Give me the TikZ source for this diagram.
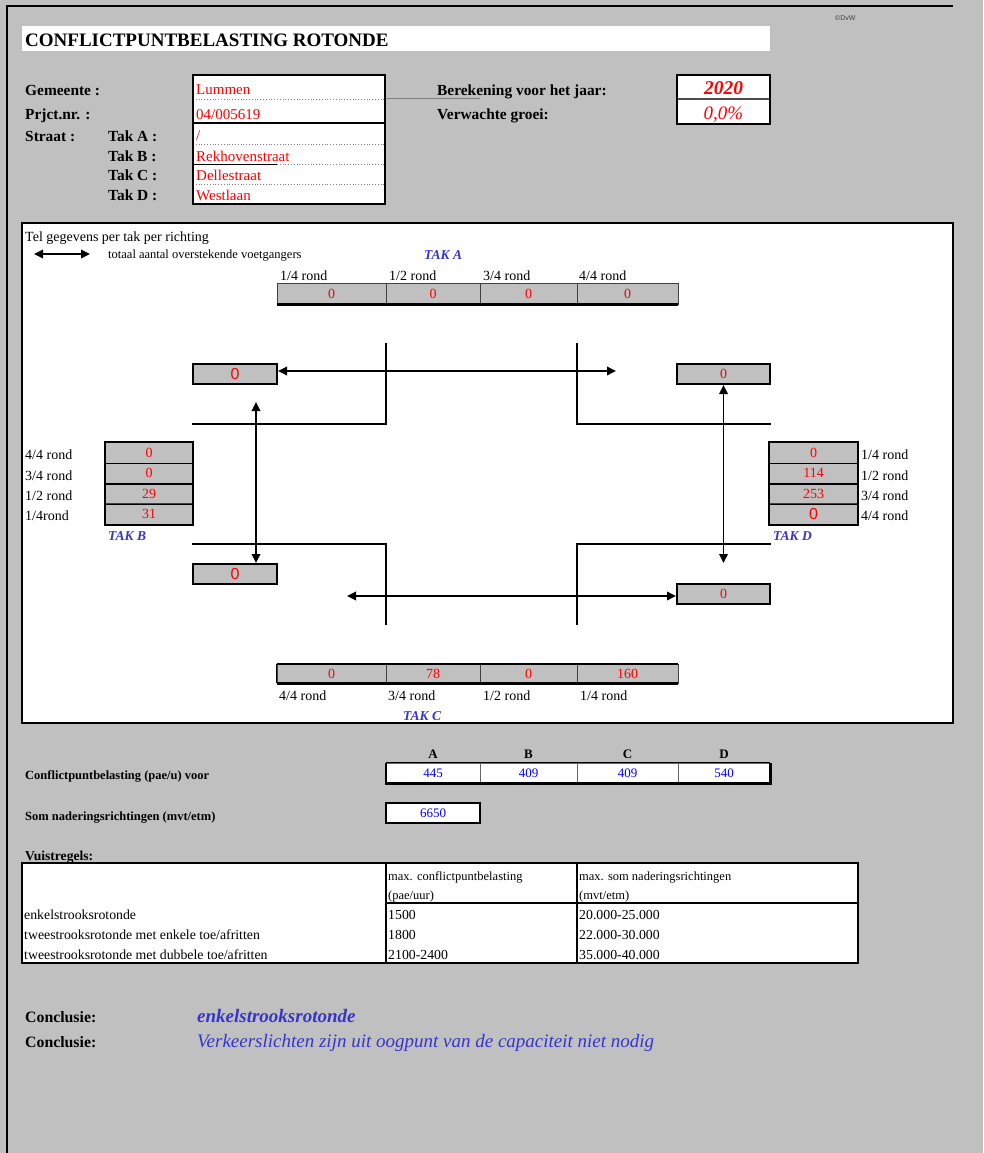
\documentclass[tikz,border=0pt]{standalone}
\usepackage{fontspec}
\setmainfont{Liberation Serif}
\newfontfamily\sansf{Liberation Sans}
\usetikzlibrary{arrows.meta}
\definecolor{bg}{HTML}{C0C0C0}
\definecolor{tblue}{HTML}{3535CC}
\definecolor{vblue}{HTML}{0000FF}
\definecolor{vred}{HTML}{FF0000}
\newcommand\fsz[1]{\fontsize{#1}{#1}\selectfont}
\begin{document}
\begin{tikzpicture}[x=1pt,y=-1pt,
  txt/.style={anchor=base west, inner sep=0},
  ctr/.style={anchor=base, inner sep=0},
  hdr/.style={txt, font=\bfseries\fsz{15.4}},
  inval/.style={txt, text=vred, font=\fsz{15}},
  rond/.style={txt, font=\fsz{14}},
  tak/.style={txt, text=tblue, font=\bfseries\itshape\fsz{13.5}},
  cellg/.style={draw=black!75, line width=0.9, fill=bg, minimum height=#1, inner sep=0, text=vred, font=\fsz{14}},
  pedbox/.style={draw=black, line width=2, fill=bg, minimum width=#1, minimum height=20, inner sep=0, text=vred},
  cellw/.style={draw=black!60, line width=0.8, fill=white, minimum height=20, inner sep=0, text=vblue, font=\fsz{13}},
  road/.style={line width=2, line cap=rect},
  dbl/.style={line width=1.8, {Triangle[length=9pt,width=8.5pt]}-{Triangle[length=9pt,width=8.5pt]}},
  small/.style={txt, font=\bfseries\fsz{12.5}},
  rowt/.style={txt, font=\fsz{13.8}},
  rowh/.style={txt, font=\fsz{12.5}},
  concl/.style={txt, font=\bfseries\fsz{15.8}},
]
\useasboundingbox (0,0) rectangle (983,1153);
\fill[bg] (0,0) rectangle (983,1153);
\draw[line width=2] (7,1153) -- (7,6) -- (953,6);

% title
\fill[white] (22,26) rectangle (770,51);
\node[txt, font=\bfseries\fsz{19}] (title) at (25,46.5) {CONFLICTPUNTBELASTING ROTONDE};
\node[txt, font=\sansf\fsz{7}, text=black!75] (copy) at (835,21) {\textcopyright DvW};

% header labels
\node[hdr] (lgem) at (25,96) {Gemeente :};
\node[hdr] (lprj) at (25,120) {Prjct.nr. :};
\node[hdr] (lstr) at (25,141) {Straat :};
\node[hdr] (ltA) at (108,141) {Tak A :};
\node[hdr] (ltB) at (108,161) {Tak B :};
\node[hdr] (ltC) at (108,180.5) {Tak C :};
\node[hdr] (ltD) at (108,200.5) {Tak D :};

% input box
\fill[white] (193,75) rectangle (385,204);
\draw[gray, line width=0.8, dotted] (193,99) -- (385,99);
\draw[gray, line width=1] (385,99) -- (480,99);
\draw[gray, line width=0.8, dotted] (193,144) -- (385,144) (193,164) -- (385,164) (193,184) -- (385,184);
\draw[line width=1] (193,164) -- (277,164);
\draw[line width=2] (193,75) rectangle (385,123);
\draw[line width=2] (193,123) rectangle (385,204);
\node[inval] (vgem) at (196,95) {Lummen};
\node[inval] (vprj) at (196,120) {04/005619};
\node[inval] (vA) at (196,140) {/};
\node[inval] (vB) at (196,161) {Rekhovenstraat};
\node[inval] (vC) at (196,180.5) {Dellestraat};
\node[inval] (vD) at (196,200.5) {Westlaan};

\node[hdr] (lber) at (437,96) {Berekening voor het jaar:};
\node[hdr] (lgro) at (437,120) {Verwachte groei:};
\fill[white] (677,75) rectangle (770,124);
\draw[line width=1.2, black!70] (677,99) -- (770,99);
\draw[line width=2] (677,75) rectangle (770,124);
\node[ctr, text=vred, font=\bfseries\itshape\fsz{19.5}] (vjaar) at (723.5,95) {2020};
\node[ctr, text=vred, font=\itshape\fsz{19}] (vgroei) at (723.5,120) {0,0\%};

% main panel
\draw[line width=2, fill=white] (22,223) rectangle (953,723);
\node[txt, font=\fsz{14}] (tel) at (25,241) {Tel gegevens per tak per richting};
\coordinate (legL) at (34,254);
\coordinate (legR) at (90,254);
\draw[dbl] (legL) -- (legR);
\node[txt, font=\fsz{12.5}] (leg) at (108,258) {totaal aantal overstekende voetgangers};
\node[tak] (takA) at (424,259) {TAK A};

% TAK A row
\node[rond] (a1l) at (280,280.5) {1/4 rond};
\node[rond] (a2l) at (389,280.5) {1/2 rond};
\node[rond] (a3l) at (483,280.5) {3/4 rond};
\node[rond] (a4l) at (579,280.5) {4/4 rond};
\node[cellg=21, minimum width=109] (a1) at (331.5,293.5) {0};
\node[cellg=21, minimum width=94] (a2) at (433,293.5) {0};
\node[cellg=21, minimum width=97] (a3) at (528.5,293.5) {0};
\node[cellg=21, minimum width=101] (a4) at (627.5,293.5) {0};
\draw[line width=2.2] (a1.south west) -- (a4.south east);

% roads
\draw[road] (386,344) -- (386,424) -- (193,424);
\draw[road] (577,344) -- (577,424) -- (770,424);
\draw[road] (193,544) -- (386,544) -- (386,624);
\draw[road] (770,544) -- (577,544) -- (577,624);

% pedestrian boxes
\node[pedbox=84, font=\sansf\fsz{16}] (pTL) at (235,373.5) {0};
\node[pedbox=93, font=\fsz{14}] (pTR) at (723.5,374) {0};
\node[pedbox=84, font=\sansf\fsz{16}] (pBL) at (235,574) {0};
\node[pedbox=93, font=\fsz{14}] (pBR) at (723.5,594) {0};

\coordinate (hT) at (616,371);
\draw[dbl] (hT -| pTL.east) -- (hT);
\coordinate (vL) at (256,402);
\draw[dbl] (vL) -- (vL |- pBL.north);
\coordinate (vR) at (723.5,563);
\draw[dbl] (pTR.south) -- (vR);
\coordinate (hB) at (347,596);
\draw[dbl] (hB) -- (hB -| pBR.west);

% TAK B
\node[cellg=20.4, minimum width=88] (b1) at (149,453) {0};
\node[cellg=20.4, minimum width=88] (b2) at (149,473.3) {0};
\node[cellg=20.4, minimum width=88] (b3) at (149,493.7) {29};
\node[cellg=20.4, minimum width=88] (b4) at (149,514.1) {31};
\draw[line width=2] (b1.north west) rectangle (b4.south east);
\draw[line width=1.6] (b1.south west) -- (b1.south east) (b2.south west) -- (b2.south east) (b3.south west) -- (b3.south east);
\node[rond] (b1l) at (25,459) {4/4 rond};
\node[rond] (b2l) at (25,480.5) {3/4 rond};
\node[rond] (b3l) at (25,500) {1/2 rond};
\node[rond] (b4l) at (25,520) {1/4rond};
\node[tak] (takB) at (108,540) {TAK B};

% TAK D
\node[cellg=20.4, minimum width=89] (d1) at (813.5,453) {0};
\node[cellg=20.4, minimum width=89] (d2) at (813.5,473.3) {114};
\node[cellg=20.4, minimum width=89] (d3) at (813.5,493.7) {253};
\node[cellg=20.4, minimum width=89, font=\sansf\fsz{16}] (d4) at (813.5,514.1) {0};
\draw[line width=2] (d1.north west) rectangle (d4.south east);
\draw[line width=1.6] (d1.south west) -- (d1.south east) (d2.south west) -- (d2.south east) (d3.south west) -- (d3.south east);
\node[rond] (d1l) at (861,459) {1/4 rond};
\node[rond] (d2l) at (861,480.5) {1/2 rond};
\node[rond] (d3l) at (861,500) {3/4 rond};
\node[rond] (d4l) at (861,520) {4/4 rond};
\node[tak] (takD) at (773,540) {TAK D};

% TAK C row
\node[cellg=19, minimum width=109] (c1) at (331.5,673.5) {0};
\node[cellg=19, minimum width=94] (c2) at (433,673.5) {78};
\node[cellg=19, minimum width=97] (c3) at (528.5,673.5) {0};
\node[cellg=19, minimum width=101] (c4) at (627.5,673.5) {160};
\draw[line width=2] (c1.north west) -- (c4.north east);
\draw[line width=2.2] (c1.south west) -- (c4.south east);
\draw[line width=1.6] (c1.north west) -- (c1.south west);
\node[rond] (c1l) at (279,700) {4/4 rond};
\node[rond] (c2l) at (388,700) {3/4 rond};
\node[rond] (c3l) at (483,700) {1/2 rond};
\node[rond] (c4l) at (580,700) {1/4 rond};
\node[tak] (takC) at (403,720) {TAK C};

% conflict point load
\node[ctr, font=\bfseries\fsz{13}] (hA) at (433,758) {A};
\node[ctr, font=\bfseries\fsz{13}] (hB2) at (528.5,758) {B};
\node[ctr, font=\bfseries\fsz{13}] (hC) at (627.5,758) {C};
\node[ctr, font=\bfseries\fsz{13}] (hD) at (724,758) {D};
\node[small] (lconf) at (25,779) {Conflictpuntbelasting (pae/u) voor};
\node[cellw, minimum width=94] (kA) at (433,773) {445};
\node[cellw, minimum width=97] (kB) at (528.5,773) {409};
\node[cellw, minimum width=101] (kC) at (627.5,773) {409};
\node[cellw, minimum width=92] (kD) at (724,773) {540};
\draw[line width=1.3] (kA.north west) -- (kD.north east);
\draw[line width=2.2] (kA.north west) -- (kA.south west) -- (kD.south east) -- (kD.north east);

\node[small] (lsom) at (25,820) {Som naderingsrichtingen (mvt/etm)};
\node[cellw, minimum width=94, draw=black, line width=2] (som) at (433,813) {6650};

% Vuistregels table
\node[txt, font=\bfseries\fsz{13.6}] (vuist) at (25,860) {Vuistregels:};
\draw[line width=1.8, fill=white] (22,863) rectangle (858,963);
\draw[line width=1.2] (386,863) -- (386,963) (577,863) -- (577,963);
\draw[line width=2] (386,903) -- (858,903);
\node[rowh] (h1a) at (388,880) {max. conflictpuntbelasting};
\node[rowh] (h1b) at (388,899) {(pae/uur)};
\node[rowh] (h2a) at (579,880) {max. som naderingsrichtingen};
\node[rowh] (h2b) at (579,899) {(mvt/etm)};
\node[rowt] (r1) at (24,919.5) {enkelstrooksrotonde};
\node[rowt] (r2) at (24,939.5) {tweestrooksrotonde met enkele toe/afritten};
\node[rowt] (r3) at (24,959) {tweestrooksrotonde met dubbele toe/afritten};
\node[rowt] (r1a) at (388,919.5) {1500};
\node[rowt] (r2a) at (388,939.5) {1800};
\node[rowt] (r3a) at (388,959) {2100-2400};
\node[rowt] (r1b) at (579,919.5) {20.000-25.000};
\node[rowt] (r2b) at (579,939.5) {22.000-30.000};
\node[rowt] (r3b) at (579,959) {35.000-40.000};

% conclusions
\node[concl] (c1t) at (25,1022.5) {Conclusie:};
\node[concl] (c2t) at (25,1047) {Conclusie:};
\node[txt, text=tblue, font=\bfseries\itshape\fsz{19}] (c1v) at (197,1022.5) {enkelstrooksrotonde};
\node[txt, text=tblue, font=\itshape\fsz{19}] (c2v) at (197,1047) {Verkeerslichten zijn uit oogpunt van de capaciteit niet nodig};
\end{tikzpicture}
\end{document}
